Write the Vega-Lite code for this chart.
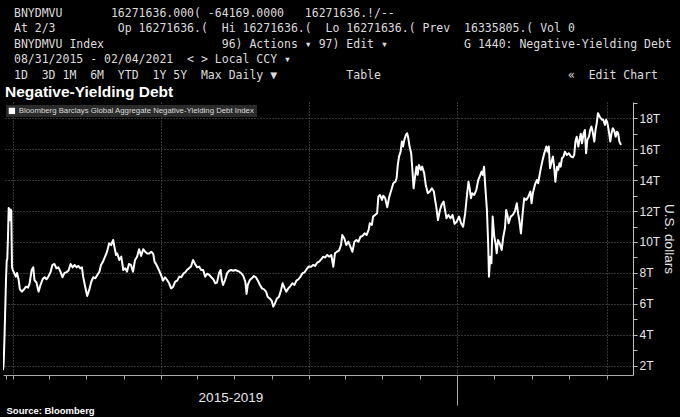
{
  "$schema": "https://vega.github.io/schema/vega-lite/v6.json",
  "width": 630,
  "height": 273,
  "autosize": {"type": "none"},
  "padding": {"left": 3, "top": 102, "right": 47, "bottom": 42},
  "background": "#000000",
  "title": {
    "text": [
      "\u2800BNYDMVU\u00a0\u00a0\u00a0\u00a0\u00a0\u00a0\u00a016271636.000( -64169.0000\u00a0\u00a0\u00a016271636.!/--",
      "\u2800At 2/3\u00a0\u00a0\u00a0\u00a0\u00a0\u00a0\u00a0\u00a0\u00a0Op 16271636.(\u00a0\u00a0Hi 16271636.(\u00a0\u00a0Lo 16271636.( Prev\u00a0\u00a016335805.( Vol 0",
      "\u2800BNYDMVU Index\u00a0\u00a0\u00a0\u00a0\u00a0\u00a0\u00a0\u00a0\u00a0\u00a0\u00a0\u00a0\u00a0\u00a0\u00a0\u00a0\u00a096) Actions ▾ 97) Edit ▾\u00a0\u00a0\u00a0\u00a0\u00a0\u00a0\u00a0\u00a0\u00a0\u00a0\u00a0G 1440: Negative-Yielding Debt",
      "\u280008/31/2015 - 02/04/2021\u00a0\u00a0< > Local CCY ▾",
      "\u28001D\u00a0\u00a03D 1M\u00a0\u00a06M\u00a0\u00a0YTD\u00a0\u00a01Y 5Y\u00a0\u00a0Max Daily ▼\u00a0\u00a0\u00a0\u00a0\u00a0\u00a0\u00a0\u00a0\u00a0\u00a0Table\u00a0\u00a0\u00a0\u00a0\u00a0\u00a0\u00a0\u00a0\u00a0\u00a0\u00a0\u00a0\u00a0\u00a0\u00a0\u00a0\u00a0\u00a0\u00a0\u00a0\u00a0\u00a0\u00a0\u00a0\u00a0\u00a0\u00a0«\u00a0\u00a0Edit Chart"
    ],
    "subtitle": "Negative-Yielding Debt",
    "anchor": "start",
    "frame": "group",
    "offset": -4,
    "dx": 2,
    "font": "DejaVu Sans Mono",
    "fontSize": 11.5,
    "fontWeight": "normal",
    "color": "#dcdcdc",
    "lineHeight": 15.5,
    "subtitleFont": "Liberation Sans",
    "subtitleFontSize": 15.5,
    "subtitleFontWeight": "bold",
    "subtitleColor": "#ffffff",
    "subtitlePadding": 4
  },
  "data": {
    "values": [
      {"d": "2015-08-31", "v": 1.72}, {"d": "2015-09-24", "v": 2.0}, {"d": "2015-10-19", "v": 2.8}, {"d": "2015-11-22", "v": 4.3},
      {"d": "2016-01-24", "v": 7.5}, {"d": "2016-02-28", "v": 8.8}, {"d": "2016-03-28", "v": 8.9}, {"d": "2016-05-01", "v": 10.3},
      {"d": "2016-06-04", "v": 12.2}, {"d": "2016-07-06", "v": 12.1}, {"d": "2016-08-07", "v": 11.4}, {"d": "2016-09-10", "v": 12.1},
      {"d": "2016-10-09", "v": 12.0}, {"d": "2016-11-12", "v": 8.4}, {"d": "2016-12-17", "v": 8.2},
      {"d": "2017-01-02", "v": 8.1}, {"d": "2017-01-08", "v": 7.76}, {"d": "2017-01-11", "v": 8.0}, {"d": "2017-01-15", "v": 7.54},
      {"d": "2017-01-18", "v": 6.94}, {"d": "2017-01-23", "v": 6.79}, {"d": "2017-01-28", "v": 6.94}, {"d": "2017-02-02", "v": 7.11},
      {"d": "2017-02-07", "v": 7.05}, {"d": "2017-02-11", "v": 7.33}, {"d": "2017-02-16", "v": 8.19}, {"d": "2017-02-20", "v": 8.36},
      {"d": "2017-02-23", "v": 7.54}, {"d": "2017-02-28", "v": 7.37}, {"d": "2017-03-05", "v": 6.79}, {"d": "2017-03-10", "v": 7.23},
      {"d": "2017-03-15", "v": 7.59}, {"d": "2017-03-20", "v": 7.72}, {"d": "2017-03-25", "v": 7.59}, {"d": "2017-03-30", "v": 7.8},
      {"d": "2017-04-04", "v": 8.08}, {"d": "2017-04-08", "v": 8.51}, {"d": "2017-04-13", "v": 8.58}, {"d": "2017-04-18", "v": 8.3},
      {"d": "2017-04-23", "v": 8.36}, {"d": "2017-04-28", "v": 8.08}, {"d": "2017-05-03", "v": 7.72}, {"d": "2017-05-08", "v": 8.0},
      {"d": "2017-05-13", "v": 8.04}, {"d": "2017-05-18", "v": 8.16}, {"d": "2017-05-23", "v": 8.58}, {"d": "2017-05-28", "v": 8.36},
      {"d": "2017-06-02", "v": 8.51}, {"d": "2017-06-07", "v": 8.36}, {"d": "2017-06-11", "v": 8.45}, {"d": "2017-06-16", "v": 8.3},
      {"d": "2017-06-20", "v": 8.36}, {"d": "2017-06-23", "v": 7.76}, {"d": "2017-06-28", "v": 7.11}, {"d": "2017-07-03", "v": 6.51},
      {"d": "2017-07-08", "v": 6.9}, {"d": "2017-07-13", "v": 7.43}, {"d": "2017-07-18", "v": 7.72}, {"d": "2017-07-23", "v": 7.65},
      {"d": "2017-07-28", "v": 7.87}, {"d": "2017-08-02", "v": 8.08}, {"d": "2017-08-06", "v": 8.51}, {"d": "2017-08-11", "v": 8.73},
      {"d": "2017-08-16", "v": 9.05}, {"d": "2017-08-21", "v": 9.37}, {"d": "2017-08-26", "v": 9.91}, {"d": "2017-08-31", "v": 9.8},
      {"d": "2017-09-05", "v": 10.13}, {"d": "2017-09-08", "v": 9.7}, {"d": "2017-09-12", "v": 9.16}, {"d": "2017-09-15", "v": 9.26},
      {"d": "2017-09-20", "v": 8.84}, {"d": "2017-09-25", "v": 9.05}, {"d": "2017-09-30", "v": 8.19}, {"d": "2017-10-05", "v": 8.3},
      {"d": "2017-10-09", "v": 8.08}, {"d": "2017-10-14", "v": 8.58}, {"d": "2017-10-19", "v": 8.51}, {"d": "2017-10-24", "v": 8.08},
      {"d": "2017-10-29", "v": 8.84}, {"d": "2017-11-03", "v": 9.05}, {"d": "2017-11-08", "v": 9.53}, {"d": "2017-11-13", "v": 9.1},
      {"d": "2017-11-18", "v": 9.53}, {"d": "2017-11-23", "v": 9.37}, {"d": "2017-11-28", "v": 9.26}, {"d": "2017-12-03", "v": 9.26},
      {"d": "2017-12-08", "v": 9.37}, {"d": "2017-12-13", "v": 9.21}, {"d": "2017-12-16", "v": 8.73}, {"d": "2017-12-21", "v": 8.51},
      {"d": "2017-12-26", "v": 8.24},
      {"d": "2018-01-01", "v": 7.87}, {"d": "2018-01-06", "v": 7.5}, {"d": "2018-01-11", "v": 7.72}, {"d": "2018-01-16", "v": 7.54},
      {"d": "2018-01-21", "v": 7.33}, {"d": "2018-01-26", "v": 7.0}, {"d": "2018-01-31", "v": 7.11}, {"d": "2018-02-05", "v": 7.43},
      {"d": "2018-02-10", "v": 7.5}, {"d": "2018-02-15", "v": 7.76}, {"d": "2018-02-20", "v": 7.72}, {"d": "2018-02-25", "v": 7.95},
      {"d": "2018-03-02", "v": 8.04}, {"d": "2018-03-06", "v": 8.19}, {"d": "2018-03-11", "v": 8.3}, {"d": "2018-03-16", "v": 8.41},
      {"d": "2018-03-21", "v": 8.84}, {"d": "2018-03-26", "v": 8.58}, {"d": "2018-03-31", "v": 8.36}, {"d": "2018-04-05", "v": 8.41},
      {"d": "2018-04-10", "v": 8.19}, {"d": "2018-04-15", "v": 8.19}, {"d": "2018-04-20", "v": 7.76}, {"d": "2018-04-25", "v": 7.95},
      {"d": "2018-04-30", "v": 7.87}, {"d": "2018-05-05", "v": 7.72}, {"d": "2018-05-10", "v": 7.59}, {"d": "2018-05-15", "v": 7.33},
      {"d": "2018-05-19", "v": 7.37}, {"d": "2018-05-24", "v": 7.98}, {"d": "2018-05-28", "v": 8.19}, {"d": "2018-05-31", "v": 7.54},
      {"d": "2018-06-03", "v": 7.22}, {"d": "2018-06-08", "v": 7.54}, {"d": "2018-06-13", "v": 7.98}, {"d": "2018-06-18", "v": 8.14},
      {"d": "2018-06-23", "v": 8.19}, {"d": "2018-06-28", "v": 8.14}, {"d": "2018-07-03", "v": 8.19}, {"d": "2018-07-08", "v": 8.14},
      {"d": "2018-07-13", "v": 8.08}, {"d": "2018-07-18", "v": 7.98}, {"d": "2018-07-23", "v": 7.8}, {"d": "2018-07-28", "v": 7.43},
      {"d": "2018-07-31", "v": 6.64}, {"d": "2018-08-03", "v": 7.22}, {"d": "2018-08-08", "v": 7.54}, {"d": "2018-08-13", "v": 7.65},
      {"d": "2018-08-18", "v": 7.8}, {"d": "2018-08-23", "v": 7.72}, {"d": "2018-08-28", "v": 7.5}, {"d": "2018-09-02", "v": 7.22},
      {"d": "2018-09-07", "v": 7.0}, {"d": "2018-09-12", "v": 6.94}, {"d": "2018-09-17", "v": 6.79}, {"d": "2018-09-21", "v": 6.46},
      {"d": "2018-09-26", "v": 6.35}, {"d": "2018-10-01", "v": 6.2}, {"d": "2018-10-05", "v": 5.82}, {"d": "2018-10-09", "v": 6.03},
      {"d": "2018-10-14", "v": 6.35}, {"d": "2018-10-19", "v": 6.46}, {"d": "2018-10-24", "v": 6.89}, {"d": "2018-10-28", "v": 7.33},
      {"d": "2018-11-02", "v": 7.0}, {"d": "2018-11-06", "v": 6.79}, {"d": "2018-11-11", "v": 7.0}, {"d": "2018-11-16", "v": 7.15},
      {"d": "2018-11-21", "v": 7.33}, {"d": "2018-11-26", "v": 7.22}, {"d": "2018-12-01", "v": 7.5}, {"d": "2018-12-06", "v": 7.59},
      {"d": "2018-12-11", "v": 7.76}, {"d": "2018-12-16", "v": 7.98}, {"d": "2018-12-21", "v": 8.04}, {"d": "2018-12-26", "v": 8.24},
      {"d": "2018-12-31", "v": 8.41},
      {"d": "2019-01-06", "v": 8.4}, {"d": "2019-01-11", "v": 8.51}, {"d": "2019-01-16", "v": 8.45}, {"d": "2019-01-21", "v": 8.66},
      {"d": "2019-01-26", "v": 8.73}, {"d": "2019-01-31", "v": 8.88}, {"d": "2019-02-05", "v": 9.05}, {"d": "2019-02-10", "v": 9.0},
      {"d": "2019-02-15", "v": 9.16}, {"d": "2019-02-20", "v": 9.05}, {"d": "2019-02-25", "v": 9.16}, {"d": "2019-03-02", "v": 8.4},
      {"d": "2019-03-06", "v": 9.27}, {"d": "2019-03-11", "v": 9.37}, {"d": "2019-03-16", "v": 9.44}, {"d": "2019-03-21", "v": 9.81},
      {"d": "2019-03-24", "v": 10.45}, {"d": "2019-03-29", "v": 10.24}, {"d": "2019-04-03", "v": 9.81}, {"d": "2019-04-08", "v": 10.02},
      {"d": "2019-04-13", "v": 9.7}, {"d": "2019-04-18", "v": 9.37}, {"d": "2019-04-23", "v": 10.02}, {"d": "2019-04-28", "v": 10.13},
      {"d": "2019-05-03", "v": 10.02}, {"d": "2019-05-08", "v": 10.34}, {"d": "2019-05-13", "v": 10.39}, {"d": "2019-05-18", "v": 10.56},
      {"d": "2019-05-23", "v": 10.45}, {"d": "2019-05-28", "v": 10.78}, {"d": "2019-05-31", "v": 11.21}, {"d": "2019-06-05", "v": 11.1},
      {"d": "2019-06-08", "v": 11.64}, {"d": "2019-06-13", "v": 11.75}, {"d": "2019-06-18", "v": 11.86}, {"d": "2019-06-21", "v": 12.93},
      {"d": "2019-06-25", "v": 13.04}, {"d": "2019-06-30", "v": 12.72}, {"d": "2019-07-03", "v": 12.99}, {"d": "2019-07-08", "v": 12.83},
      {"d": "2019-07-13", "v": 12.25}, {"d": "2019-07-18", "v": 12.93}, {"d": "2019-07-23", "v": 13.36}, {"d": "2019-07-28", "v": 13.8},
      {"d": "2019-08-02", "v": 13.9}, {"d": "2019-08-05", "v": 14.12}, {"d": "2019-08-08", "v": 14.98}, {"d": "2019-08-11", "v": 15.52},
      {"d": "2019-08-15", "v": 15.84}, {"d": "2019-08-18", "v": 16.49}, {"d": "2019-08-21", "v": 16.17}, {"d": "2019-08-24", "v": 16.6},
      {"d": "2019-08-28", "v": 16.92}, {"d": "2019-08-31", "v": 17.03}, {"d": "2019-09-03", "v": 16.7}, {"d": "2019-09-06", "v": 16.17},
      {"d": "2019-09-10", "v": 15.74}, {"d": "2019-09-13", "v": 14.66}, {"d": "2019-09-16", "v": 13.47}, {"d": "2019-09-19", "v": 14.12},
      {"d": "2019-09-23", "v": 14.87}, {"d": "2019-09-26", "v": 14.34}, {"d": "2019-09-29", "v": 14.98}, {"d": "2019-10-04", "v": 14.66},
      {"d": "2019-10-07", "v": 14.87}, {"d": "2019-10-12", "v": 14.45}, {"d": "2019-10-16", "v": 13.69}, {"d": "2019-10-21", "v": 13.15},
      {"d": "2019-10-26", "v": 13.26}, {"d": "2019-10-31", "v": 13.47}, {"d": "2019-11-05", "v": 13.26}, {"d": "2019-11-08", "v": 12.72},
      {"d": "2019-11-11", "v": 12.25}, {"d": "2019-11-15", "v": 11.42}, {"d": "2019-11-20", "v": 12.07}, {"d": "2019-11-24", "v": 12.4},
      {"d": "2019-11-29", "v": 12.61}, {"d": "2019-12-03", "v": 12.0}, {"d": "2019-12-06", "v": 11.53}, {"d": "2019-12-11", "v": 11.75},
      {"d": "2019-12-16", "v": 11.53}, {"d": "2019-12-21", "v": 11.75}, {"d": "2019-12-26", "v": 11.17}, {"d": "2019-12-31", "v": 11.31},
      {"d": "2020-01-06", "v": 11.64}, {"d": "2020-01-11", "v": 11.21}, {"d": "2020-01-16", "v": 10.99}, {"d": "2020-01-21", "v": 11.86},
      {"d": "2020-01-25", "v": 12.93}, {"d": "2020-01-29", "v": 13.9}, {"d": "2020-02-01", "v": 13.47}, {"d": "2020-02-04", "v": 12.83},
      {"d": "2020-02-07", "v": 13.15}, {"d": "2020-02-12", "v": 13.04}, {"d": "2020-02-17", "v": 13.36}, {"d": "2020-02-22", "v": 14.01},
      {"d": "2020-02-27", "v": 14.34}, {"d": "2020-03-01", "v": 14.55}, {"d": "2020-03-04", "v": 14.34}, {"d": "2020-03-07", "v": 14.87},
      {"d": "2020-03-10", "v": 13.58}, {"d": "2020-03-14", "v": 12.07}, {"d": "2020-03-17", "v": 9.92}, {"d": "2020-03-19", "v": 7.76},
      {"d": "2020-03-22", "v": 9.05}, {"d": "2020-03-25", "v": 8.62}, {"d": "2020-03-28", "v": 11.64}, {"d": "2020-04-01", "v": 10.34},
      {"d": "2020-04-04", "v": 9.92}, {"d": "2020-04-07", "v": 9.27}, {"d": "2020-04-10", "v": 10.13}, {"d": "2020-04-14", "v": 9.92},
      {"d": "2020-04-19", "v": 9.48}, {"d": "2020-04-23", "v": 10.34}, {"d": "2020-04-27", "v": 10.89}, {"d": "2020-04-30", "v": 12.07},
      {"d": "2020-05-03", "v": 11.75}, {"d": "2020-05-06", "v": 11.21}, {"d": "2020-05-11", "v": 11.64}, {"d": "2020-05-16", "v": 11.75},
      {"d": "2020-05-21", "v": 11.97}, {"d": "2020-05-26", "v": 12.5}, {"d": "2020-05-29", "v": 11.86}, {"d": "2020-06-01", "v": 11.42},
      {"d": "2020-06-05", "v": 10.56}, {"d": "2020-06-10", "v": 12.07}, {"d": "2020-06-13", "v": 12.83}, {"d": "2020-06-18", "v": 12.72},
      {"d": "2020-06-23", "v": 12.93}, {"d": "2020-06-28", "v": 13.26}, {"d": "2020-07-01", "v": 12.5}, {"d": "2020-07-04", "v": 13.15},
      {"d": "2020-07-09", "v": 13.69}, {"d": "2020-07-14", "v": 14.01}, {"d": "2020-07-17", "v": 13.8}, {"d": "2020-07-22", "v": 14.55},
      {"d": "2020-07-27", "v": 15.2}, {"d": "2020-08-01", "v": 15.74}, {"d": "2020-08-06", "v": 16.17}, {"d": "2020-08-09", "v": 15.84},
      {"d": "2020-08-12", "v": 16.17}, {"d": "2020-08-15", "v": 14.77}, {"d": "2020-08-19", "v": 15.2}, {"d": "2020-08-22", "v": 15.52},
      {"d": "2020-08-25", "v": 14.87}, {"d": "2020-08-28", "v": 13.9}, {"d": "2020-09-01", "v": 14.87}, {"d": "2020-09-04", "v": 14.66},
      {"d": "2020-09-07", "v": 15.09}, {"d": "2020-09-10", "v": 14.87}, {"d": "2020-09-13", "v": 15.41}, {"d": "2020-09-17", "v": 15.52},
      {"d": "2020-09-20", "v": 15.84}, {"d": "2020-09-25", "v": 15.63}, {"d": "2020-09-30", "v": 15.74}, {"d": "2020-10-05", "v": 15.52},
      {"d": "2020-10-10", "v": 15.48}, {"d": "2020-10-13", "v": 15.63}, {"d": "2020-10-16", "v": 16.49}, {"d": "2020-10-19", "v": 16.81},
      {"d": "2020-10-23", "v": 16.17}, {"d": "2020-10-26", "v": 16.6}, {"d": "2020-10-29", "v": 17.0}, {"d": "2020-11-01", "v": 16.38},
      {"d": "2020-11-05", "v": 17.03}, {"d": "2020-11-08", "v": 17.24}, {"d": "2020-11-11", "v": 15.74}, {"d": "2020-11-14", "v": 16.6},
      {"d": "2020-11-18", "v": 16.81}, {"d": "2020-11-21", "v": 17.24}, {"d": "2020-11-24", "v": 17.46}, {"d": "2020-11-27", "v": 17.13},
      {"d": "2020-12-01", "v": 16.49}, {"d": "2020-12-04", "v": 17.24}, {"d": "2020-12-07", "v": 17.68}, {"d": "2020-12-10", "v": 18.33},
      {"d": "2020-12-14", "v": 18.11}, {"d": "2020-12-17", "v": 18.0}, {"d": "2020-12-20", "v": 17.9}, {"d": "2020-12-23", "v": 17.9},
      {"d": "2020-12-27", "v": 17.57}, {"d": "2020-12-30", "v": 17.9}, {"d": "2021-01-02", "v": 17.68}, {"d": "2021-01-05", "v": 17.24},
      {"d": "2021-01-09", "v": 16.49}, {"d": "2021-01-12", "v": 17.03}, {"d": "2021-01-15", "v": 17.35}, {"d": "2021-01-18", "v": 17.24},
      {"d": "2021-01-22", "v": 16.81}, {"d": "2021-01-25", "v": 17.13}, {"d": "2021-01-28", "v": 17.03}, {"d": "2021-01-31", "v": 16.49},
      {"d": "2021-02-04", "v": 16.27}
    ]
  },
  "mark": {"type": "line", "strokeWidth": 2, "strokeJoin": "round", "clip": true},
  "encoding": {
    "x": {
      "field": "d",
      "type": "temporal",
      "scale": {
        "type": "utc",
        "domain": [
          {"year": 2015, "month": 8, "date": 31, "utc": true},
          {"year": 2021, "month": 3, "date": 5, "utc": true}
        ],
        "domainRaw": {"expr": "[utc(2015, 7, 31), utc(2017, 0, 1), utc(2020, 0, 1), utc(2021, 0, 1), utc(2021, 2, 5)]"},
        "range": [0, 10, 454, 604, 630],
        "nice": false
      },
      "axis": {
        "values": [
          {"year": 2016, "month": 1, "date": 1, "utc": true},
          {"year": 2017, "month": 1, "date": 1, "utc": true},
          {"year": 2017, "month": 4, "date": 1, "utc": true},
          {"year": 2017, "month": 7, "date": 1, "utc": true},
          {"year": 2017, "month": 10, "date": 1, "utc": true},
          {"year": 2018, "month": 1, "date": 1, "utc": true},
          {"year": 2018, "month": 4, "date": 1, "utc": true},
          {"year": 2018, "month": 7, "date": 1, "utc": true},
          {"year": 2018, "month": 10, "date": 1, "utc": true},
          {"year": 2019, "month": 1, "date": 1, "utc": true},
          {"year": 2019, "month": 4, "date": 1, "utc": true},
          {"year": 2019, "month": 7, "date": 1, "utc": true},
          {"year": 2019, "month": 10, "date": 1, "utc": true},
          {"year": 2020, "month": 1, "date": 1, "utc": true},
          {"year": 2020, "month": 4, "date": 1, "utc": true},
          {"year": 2020, "month": 7, "date": 1, "utc": true},
          {"year": 2020, "month": 10, "date": 1, "utc": true},
          {"year": 2021, "month": 1, "date": 1, "utc": true}
        ],
        "labelExpr": "utcyear(datum.value) == 2018 && utcmonth(datum.value) == 6 ? '2015-2019' : ''",
        "labelColor": "#e8e8e8",
        "labelFont": "Liberation Sans",
        "labelFontSize": 13.5,
        "labelPadding": 11,
        "labelOffset": -4,
        "labelOverlap": false,
        "labelFlush": false,
        "labelBound": false,
        "domainColor": "#a8a8a8",
        "tickColor": "#a8a8a8",
        "tickSize": {"condition": {"test": "utcyear(datum.value) == 2020 && utcmonth(datum.value) == 0", "value": 30}, "value": 4},
        "grid": true,
        "gridColor": "#6a6a6a",
        "gridDash": [1, 2],
        "gridOpacity": {"condition": {"test": "utcmonth(datum.value) == 0 && utcyear(datum.value) >= 2017", "value": 1}, "value": 0},
        "title": "Source: Bloomberg",
        "titleAnchor": "start",
        "titleAlign": "left",
        "titleBaseline": "alphabetic",
        "titleX": 3,
        "titleY": 38,
        "titleFont": "Liberation Sans",
        "titleFontSize": 9.5,
        "titleFontWeight": "bold",
        "titleColor": "#ffffff"
      }
    },
    "y": {
      "field": "v",
      "type": "quantitative",
      "scale": {"domain": [1.4, 19.05], "nice": false, "zero": false},
      "axis": {
        "orient": "right",
        "values": [2, 3, 4, 5, 6, 7, 8, 9, 10, 11, 12, 13, 14, 15, 16, 17, 18, 19],
        "labelExpr": "datum.value % 2 == 0 ? datum.value + 'T' : ''",
        "labelColor": "#e8e8e8",
        "labelFont": "Liberation Sans",
        "labelFontSize": 12,
        "labelPadding": 2,
        "labelOverlap": false,
        "domainColor": "#c0c0c0",
        "tickColor": "#c0c0c0",
        "tickSize": 4,
        "grid": true,
        "gridColor": "#6a6a6a",
        "gridDash": [1, 2],
        "gridOpacity": {"condition": {"test": "datum.value % 2 == 1", "value": 0}, "value": 1},
        "title": "U.S. dollars",
        "titleColor": "#e8e8e8",
        "titleFont": "Liberation Sans",
        "titleFontSize": 13.5,
        "titleFontWeight": "normal",
        "titlePadding": 2
      }
    },
    "color": {
      "datum": "Bloomberg Barclays Global Aggregate Negative-Yielding Debt Index",
      "scale": {"range": ["#ffffff"]},
      "legend": {
        "title": null,
        "orient": "top-left",
        "offset": 3,
        "padding": 2,
        "fillColor": "#2b2b2b",
        "labelColor": "#dcdcdc",
        "labelFont": "Liberation Sans",
        "labelFontSize": 7.8,
        "labelLimit": 400,
        "labelOffset": 3,
        "symbolType": "square",
        "symbolSize": 40,
        "symbolFillColor": "#ffffff",
        "symbolStrokeWidth": 0,
        "encode": {"symbols": {"update": {"fill": {"value": "#ffffff"}}}}
      }
    }
  },
  "config": {
    "view": {"stroke": null}
  }
}
